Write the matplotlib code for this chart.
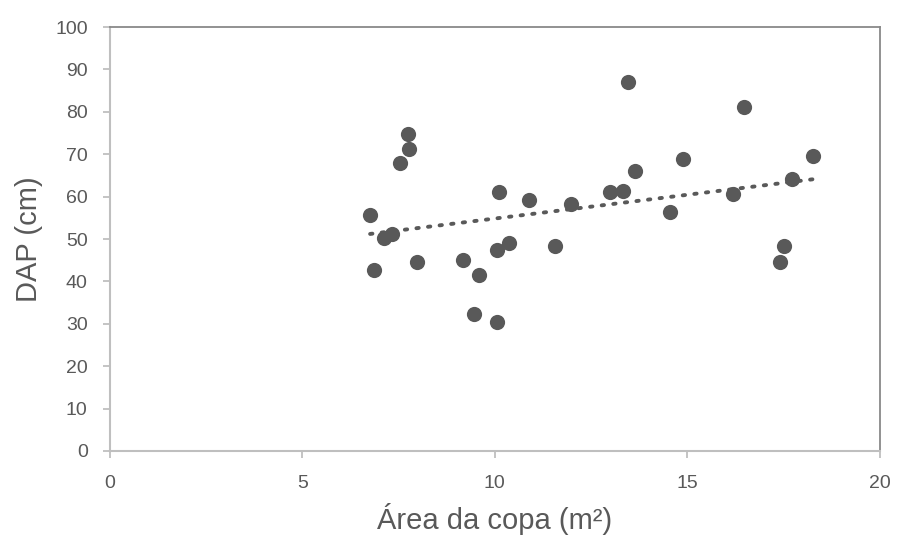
import numpy as np
import matplotlib
matplotlib.use("Agg")
import matplotlib.pyplot as plt

plt.rcParams['font.family'] = ['Liberation Sans', 'DejaVu Sans']

# Área da copa (m²) e DAP (cm)
area = [6.76, 6.85, 7.11, 7.33, 7.53, 7.74, 7.77, 7.99, 9.18, 9.45,
        9.58, 10.05, 10.06, 10.12, 10.37, 10.88, 11.57, 11.97, 13.0, 13.33,
        13.46, 13.65, 14.55, 14.9, 16.2, 16.48, 17.41, 17.51, 17.73, 18.26]
dap = [55.6, 42.6, 50.2, 51.1, 68.0, 74.8, 71.2, 44.6, 45.0, 32.4,
       41.4, 30.4, 47.3, 61.0, 49.1, 59.3, 48.3, 58.3, 61.1, 61.3,
       87.1, 66.1, 56.3, 68.8, 60.6, 81.1, 44.6, 48.3, 64.1, 69.5]

xticks = [0, 5, 10, 15, 20]
yticks = [0, 10, 20, 30, 40, 50, 60, 70, 80, 90, 100]

cor = '#595959'

fig = plt.figure(figsize=(8.97, 5.41), dpi=100)
ax = fig.add_axes([0.1226, 0.1664, 0.858, 0.7836])

ax.scatter(area, dap, s=120, color=cor, zorder=3, linewidths=0)

# linha de tendência linear
a, b = np.polyfit(area, dap, 1)
xt = np.array([min(area), max(area)])
ax.plot(xt, a * xt + b, linestyle=(0, (0.6, 2.4)), linewidth=2.8,
        color=cor, dash_capstyle='round', zorder=2)

ax.set_xlim(0, 20)
ax.set_ylim(0, 100)
ax.set_xticks(xticks)
ax.set_yticks(yticks)
ax.tick_params(axis='both', colors='#bfbfbf', labelcolor=cor, labelsize=14,
               length=5, width=1.3, direction='out')
ax.tick_params(axis='x', pad=12)
ax.tick_params(axis='y', pad=11)

for s in ['left', 'bottom']:
    ax.spines[s].set_color('#bfbfbf')
    ax.spines[s].set_linewidth(1.5)
for s in ['top', 'right']:
    ax.spines[s].set_color('#898989')
    ax.spines[s].set_linewidth(1.3)

ax.set_xlabel('Área da copa (m²)', fontsize=21, color=cor, labelpad=8)
ax.set_ylabel('DAP (cm)', fontsize=21, color=cor, labelpad=9)

plt.savefig('out.png', dpi=100)
